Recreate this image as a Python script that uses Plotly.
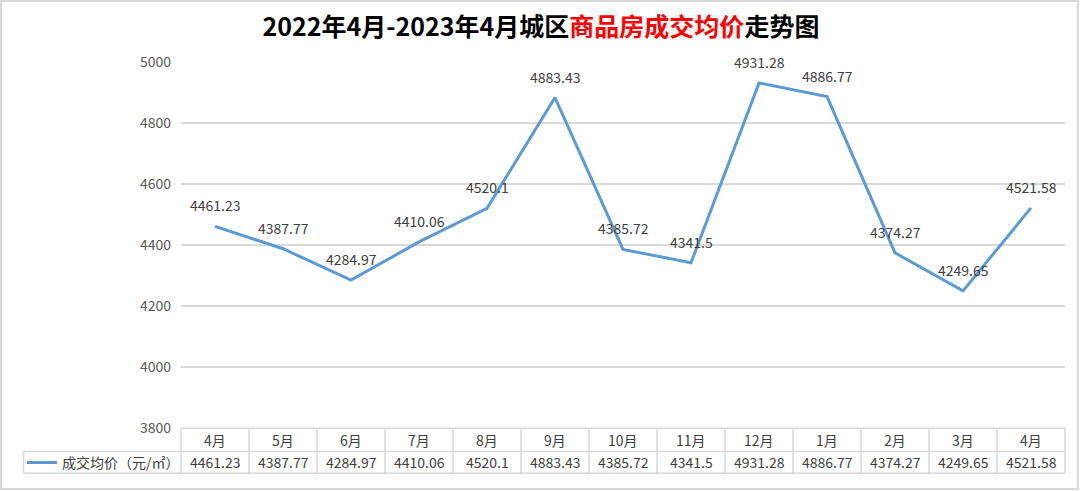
import plotly.graph_objects as go

categories = ["4月", "5月", "6月", "7月", "8月", "9月", "10月", "11月", "12月", "1月", "2月", "3月", "4月"]
prices = [4461.23, 4387.77, 4284.97, 4410.06, 4520.1, 4883.43, 4385.72, 4341.5, 4931.28, 4886.77, 4374.27, 4249.65, 4521.58]
value_labels = ["4461.23", "4387.77", "4284.97", "4410.06", "4520.1", "4883.43", "4385.72", "4341.5", "4931.28", "4886.77", "4374.27", "4249.65", "4521.58"]
series_name = "成交均价（元/㎡）"
y_ticks = [3800, 4000, 4200, 4400, 4600, 4800, 5000]

W, H = 1080, 491
ML, MR, MT, MB = 181, 15, 62, 63
PW = W - ML - MR
PH = H - MT - MB
FONT = "Noto Sans CJK SC, Microsoft YaHei, sans-serif"
LINE_C = "#5B9BD5"
GRID_C = "#D9D9D9"
TXT_C = "#404040"
FS = 14

n = len(categories)
xs = list(range(n))

fig = go.Figure()
fig.add_trace(go.Scatter(x=xs, y=prices, mode="lines", line=dict(color=LINE_C, width=3),
                         name=series_name, showlegend=False, hoverinfo="x+y"))

annotations = []
for i, v in enumerate(prices):
    annotations.append(dict(x=i, y=v, xref="x", yref="y", text=value_labels[i], showarrow=False,
                            yshift=21, font=dict(family=FONT, size=FS, color=TXT_C)))

def py(pix):
    # pixel y (from top) -> paper coordinate
    return (H - MB - pix) / PH

def px(pix):
    return (pix - ML) / PW

row0_top, row0_bot, row1_bot = 428.3, 451.5, 473.3
shapes = []
lw = dict(color=GRID_C, width=1.5)
shapes.append(dict(type="line", xref="paper", yref="paper", x0=0, x1=1, y0=py(row0_top), y1=py(row0_top), line=lw))
shapes.append(dict(type="line", xref="paper", yref="paper", x0=px(23.5), x1=1, y0=py(row0_bot), y1=py(row0_bot), line=lw))
shapes.append(dict(type="line", xref="paper", yref="paper", x0=px(23.5), x1=1, y0=py(row1_bot), y1=py(row1_bot), line=lw))
for k in range(n + 1):
    xf = k / n
    shapes.append(dict(type="line", xref="paper", yref="paper", x0=xf, x1=xf, y0=py(row0_top), y1=py(row1_bot), line=lw))
shapes.append(dict(type="line", xref="paper", yref="paper", x0=px(23.5), x1=px(23.5), y0=py(row0_bot), y1=py(row1_bot), line=lw))
shapes.append(dict(type="line", xref="paper", yref="paper", x0=px(27), x1=px(57), y0=py(462.5), y1=py(462.5),
                   line=dict(color=LINE_C, width=3)))
shapes.append(dict(type="rect", xref="paper", yref="paper", x0=px(1), x1=px(W - 2), y0=py(1), y1=py(H - 2),
                   line=dict(color=GRID_C, width=2), layer="below"))

for i, c in enumerate(categories):
    xc = (i + 0.5) / n
    annotations.append(dict(x=xc, y=py((row0_top + row0_bot) / 2), xref="paper", yref="paper", text=c,
                            showarrow=False, xanchor="center", yanchor="middle",
                            font=dict(family=FONT, size=FS, color=TXT_C)))
    annotations.append(dict(x=xc, y=py((row0_bot + row1_bot) / 2), xref="paper", yref="paper", text=value_labels[i],
                            showarrow=False, xanchor="center", yanchor="middle",
                            font=dict(family=FONT, size=FS, color=TXT_C)))
annotations.append(dict(x=px(60), y=py((row0_bot + row1_bot) / 2), xref="paper", yref="paper", text=series_name,
                        showarrow=False, xanchor="left", yanchor="middle",
                        font=dict(family=FONT, size=FS, color=TXT_C)))

title_html = ("<b>2022年4月-2023年4月城区<span style='color:#FF0000'>商品房成交均价</span>走势图</b>")

fig.update_layout(
    width=W, height=H,
    margin=dict(l=ML, r=MR, t=MT, b=MB, autoexpand=False),
    paper_bgcolor="white", plot_bgcolor="white",
    title=dict(text=title_html, x=541 / W, xref="container", xanchor="center", y=1 - 27 / H, yanchor="middle",
               font=dict(family=FONT, size=25, color="#000000")),
    xaxis=dict(range=[-0.5, n - 0.5], showgrid=False, zeroline=False, showticklabels=False,
               showline=False, ticks="", fixedrange=True),
    yaxis=dict(range=[3800, 5000], tickvals=y_ticks, showgrid=True, gridcolor=GRID_C, gridwidth=1.5,
               zeroline=False, showline=False, ticks="", ticklabelstandoff=9,
               tickfont=dict(family=FONT, size=FS, color="#595959")),
    shapes=shapes,
    annotations=annotations,
    showlegend=False,
)

fig.write_html("out.html")
